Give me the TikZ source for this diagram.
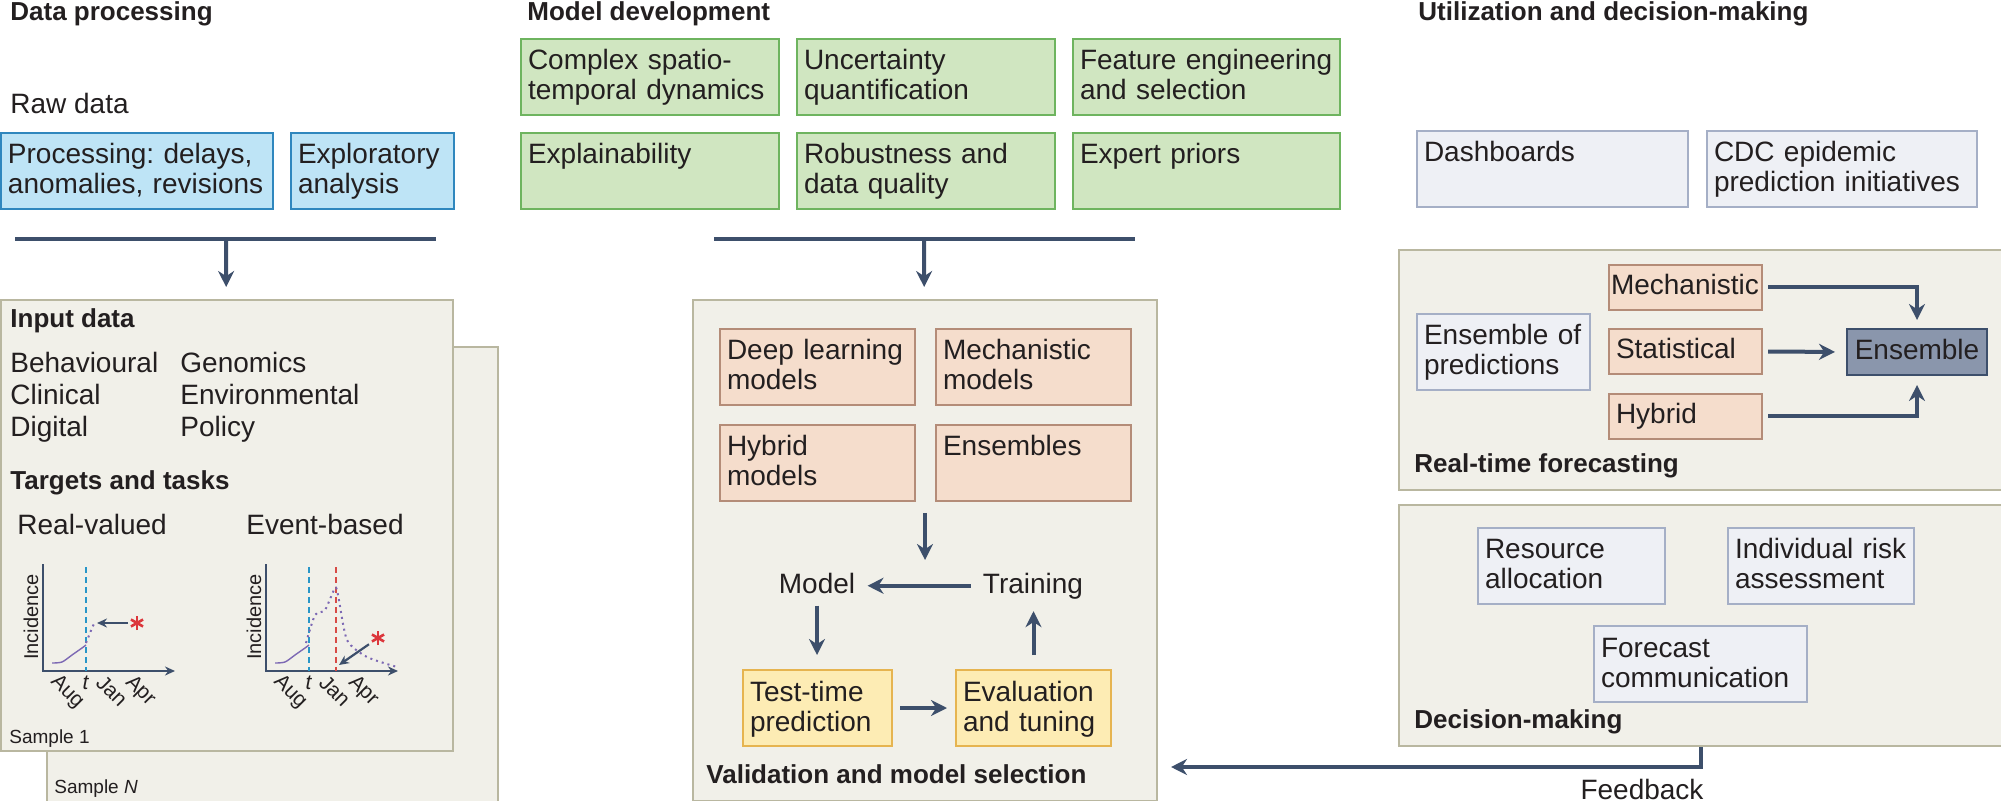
\documentclass[tikz,border=0pt]{standalone}
\usepackage{fontspec}
\setmainfont{Liberation Sans}
\usetikzlibrary{arrows.meta}
\definecolor{ink}{RGB}{35,31,32}
\definecolor{navy}{RGB}{61,79,107}
\definecolor{bluefill}{RGB}{190,228,246}
\definecolor{bluedraw}{RGB}{47,135,190}
\definecolor{greenfill}{RGB}{208,230,193}
\definecolor{greendraw}{RGB}{110,180,95}
\definecolor{peachfill}{RGB}{245,221,204}
\definecolor{peachdraw}{RGB}{180,140,120}
\definecolor{yellowfill}{RGB}{253,236,180}
\definecolor{yellowdraw}{RGB}{230,180,80}
\definecolor{greyfill}{RGB}{238,240,245}
\definecolor{greydraw}{RGB}{165,175,198}
\definecolor{panelfill}{RGB}{241,240,233}
\definecolor{paneldraw}{RGB}{185,183,160}
\definecolor{ensfill}{RGB}{138,150,172}
\definecolor{tblue}{RGB}{40,150,200}
\definecolor{tred}{RGB}{215,75,70}
\definecolor{tpurple}{RGB}{125,105,180}
\definecolor{astred}{RGB}{220,55,60}
\frenchspacing
\begin{document}
\begin{tikzpicture}[x=0.5pt,y=-0.5pt,
  every node/.style={text=ink,font=\fontsize{14}{15}\selectfont},
  bx/.style={draw,line width=1pt,anchor=north west,align=left,inner xsep=3.5pt,inner ysep=0pt,text height=15.5pt,text depth=22.5pt},
  sbx/.style={bx,text height=15pt,text depth=7.5pt},
  bluebox/.style={bx,fill=bluefill,draw=bluedraw},
  greenbox/.style={bx,fill=greenfill,draw=greendraw},
  peachbox/.style={bx,fill=peachfill,draw=peachdraw},
  yellowbox/.style={bx,fill=yellowfill,draw=yellowdraw},
  greybox/.style={bx,fill=greyfill,draw=greydraw},
  panel/.style={draw=paneldraw,fill=panelfill,line width=1pt,anchor=north west,inner sep=0pt},
  head/.style={anchor=base west,inner sep=0pt,font=\fontsize{13}{15}\selectfont\bfseries},
  txt/.style={anchor=base west,inner sep=0pt},
  lbl/.style={anchor=base,inner sep=6pt},
  tick/.style={inner sep=0pt,font=\fontsize{10.5}{12}\selectfont},
  small/.style={txt,font=\fontsize{9.5}{11}\selectfont},
  bar/.style={navy,line width=2.4pt},
  arr/.style={navy,line width=2pt,-{Stealth[length=8pt,width=8pt]}},
  parr/.style={navy,line width=1.1pt,-{Stealth[length=5pt,width=4.5pt]}},
  axis/.style={navy,line width=1.3pt,-{Stealth[length=5pt,width=4.5pt]}},
  ]
\useasboundingbox (0,0) rectangle (2001,801);

\node[head] (hdp) at (10,21) {Data processing};
\node[head] (hmd) at (527,21) {Model development};
\node[head] (hud) at (1418,21) {Utilization and decision-making};

\node[txt] (raw) at (10,114) {Raw data};
\node[bluebox,text width=129pt] (proc) at (0,132) {Processing: delays,\\anomalies, revisions};
\node[bluebox,text width=74.5pt] (expl) at (290,132) {Exploratory\\analysis};
\coordinate (b1l) at (15,239); \coordinate (b1r) at (436,239); \coordinate (b1) at (226,239);
\draw[bar] (b1l) -- (b1r);

\node[panel,minimum width=225.5pt,minimum height=227.5pt] (sN) at (46,346) {};
\node[panel,minimum width=226pt,minimum height=225.5pt] (s1) at (0,299) {};
\draw[arr,shorten >=6pt] (b1) -- (s1);
\node[head] (inp) at (10,328) {Input data};
\foreach \t [count=\i] in {Behavioural,Clinical,Digital}
  \node[txt] (da\i) at (10,341+32*\i) {\t};
\foreach \t [count=\i] in {Genomics,Environmental,Policy}
  \node[txt] (db\i) at (180,341+32*\i) {\t};
\node[head] (tat) at (10,490) {Targets and tasks};
\node[txt] (rv) at (17,534) {Real-valued};
\node[txt] (eb) at (246,534) {Event-based};
\node[small] (smp1) at (9,743) {Sample 1};
\node[small] (smpN) at (54,793) {Sample \textit{N}};

\foreach \ox/\i in {43/1,266/2}{
\begin{scope}[shift={(\ox,671)}]
  \draw[axis] (0,-107) -- (0,0) -- (132,0);
  \draw[tblue,line width=0.8pt,dash pattern=on 3pt off 2pt] (43,-104) -- (43,0);
  \draw[tpurple,line width=0.7pt] plot[smooth] coordinates {(9,-8) (19,-9) (29,-16) (39,-23) (43,-26)};
  \node[tick,font=\fontsize{10}{12}\selectfont,rotate=90] (inc\i) at (-12,-54) {Incidence};
  \node[tick,rotate=-45] (aug\i) at (24,21) {Aug};
  \node[tick] (t\i) at (43,12) {\textit{t}};
  \node[tick,rotate=-45] (jan\i) at (69,20) {Jan};
  \node[tick,rotate=-45] (apr\i) at (97,20) {Apr};
\end{scope}}

\begin{scope}[shift={(43,671)}]
  \draw[tpurple,line width=1pt,dash pattern=on 1pt off 2pt] plot[smooth] coordinates {(43,-28) (47,-38) (51,-47) (54,-48)};
  \coordinate (ast1) at (94,-48); \coordinate (pt1) at (54,-48);
  \draw[parr,shorten <=4.5pt] (ast1) -- (pt1);
  \foreach \a in {90,30,150} \draw[astred,line width=1.3pt] (ast1) +(\a:7) -- +(\a+180:7);
\end{scope}
\begin{scope}[shift={(266,671)}]
  \draw[tred,line width=0.8pt,dash pattern=on 3pt off 2pt] (70,-104) -- (70,0);
  \draw[tpurple,line width=1pt,dash pattern=on 1pt off 2pt] plot[smooth,tension=0.4] coordinates {(40,-28) (49,-56) (59,-61) (69,-83) (72,-76) (81,-31) (101,-14) (131,-4)};
  \coordinate (ast2) at (112,-33); \coordinate (pt2) at (73,-6);
  \draw[parr,shorten <=5.5pt] (ast2) -- (pt2);
  \foreach \a in {90,30,150} \draw[astred,line width=1.3pt] (ast2) +(\a:7) -- +(\a+180:7);
\end{scope}

\node[greenbox,text width=122pt] (cstd) at (520,38) {Complex spatio-\\temporal dynamics};
\node[greenbox,text width=122pt] (unc) at (796,38) {Uncertainty\\quantification};
\node[greenbox,text width=126.5pt] (feat) at (1072,38) {Feature engineering\\and selection};
\node[greenbox,text width=122pt] (expb) at (520,132) {Explainability};
\node[greenbox,text width=122pt] (rob) at (796,132) {Robustness and\\data quality};
\node[greenbox,text width=126.5pt] (pri) at (1072,132) {Expert priors};
\coordinate (b2l) at (714,239); \coordinate (b2r) at (1135,239); \coordinate (b2) at (924,239);
\draw[bar] (b2l) -- (b2r);

\node[panel,minimum width=232pt,minimum height=250.5pt] (valid) at (692,299) {};
\draw[arr,shorten >=6pt] (b2) -- (valid);
\node[peachbox,text width=90.5pt] (dlm) at (719,328) {Deep learning\\models};
\node[peachbox,text width=90.5pt] (mm) at (935,328) {Mechanistic\\models};
\node[peachbox,text width=90.5pt] (hm) at (719,424) {Hybrid\\models};
\node[peachbox,text width=90.5pt] (ensm) at (935,424) {Ensembles};
\coordinate (fork) at (925,500); \coordinate (forkend) at (925,560);
\draw[arr,shorten <=6.5pt] (fork) -- (forkend);
\node[lbl] (model) at (817,593) {Model};
\node[lbl] (train) at (1033,593) {Training};
\node[yellowbox,text width=67.5pt] (test) at (742,669) {Test-time\\prediction};
\node[yellowbox,text width=70.5pt] (eval) at (955,669) {Evaluation\\and tuning};
\draw[arr] (train.west) -- (train.west -| model.east);
\draw[arr,shorten >=7pt] (model.south) -- (model.south |- test.north);
\draw[arr,shorten <=3.5pt,shorten >=4pt] (test.east) -- (test.east -| eval.west);
\draw[arr,shorten <=7pt] (eval.north) -- (eval.north |- train.south);
\node[head] (vms) at (706,783) {Validation and model selection};

\node[greybox,text width=128.5pt] (dash) at (1416,130) {Dashboards};
\node[greybox,text width=128pt] (cdc) at (1706,130) {CDC epidemic\\prediction initiatives};

\node[panel,minimum width=302pt,minimum height=120pt] (rtf) at (1398,249) {};
\node[greybox,text width=79.5pt] (eop) at (1416,313) {Ensemble of\\predictions};
\node[sbx,fill=peachfill,draw=peachdraw,inner xsep=1pt,text width=74.5pt] (mech) at (1608,264) {Mechanistic};
\node[sbx,fill=peachfill,draw=peachdraw,text width=69.5pt] (stat) at (1608,328) {Statistical};
\node[sbx,fill=peachfill,draw=peachdraw,text width=69.5pt] (hyb) at (1608,393) {Hybrid};
\node[sbx,fill=ensfill,draw=navy,align=center,text width=63pt,text height=15.5pt] (ens) at (1846,328) {Ensemble};
\draw[arr,shorten <=2.5pt,shorten >=4pt] (mech.east) -| (ens.north);
\draw[arr,shorten <=2.5pt,shorten >=5.5pt] (stat.east) -- (ens.west);
\draw[arr,shorten <=2.5pt,shorten >=4.5pt] (hyb.east) -| (ens.south);
\node[head] (rtfl) at (1414,473) {Real-time forecasting};

\node[panel,minimum width=302pt,minimum height=120.5pt] (dec) at (1398,504) {};
\node[greybox,text width=86.5pt] (res) at (1477,527) {Resource\\allocation};
\node[greybox,text width=86pt] (ira) at (1727,527) {Individual risk\\assessment};
\node[greybox,text width=99.5pt] (fc) at (1593,625) {Forecast\\communication};
\node[head] (decl) at (1414,728) {Decision-making};
\coordinate (fb) at (1156,767);
\draw[arr,shorten >=7.5pt] (dec.south) |- (fb);
\node[txt,anchor=base] (fbl) at (1642,799) {Feedback};
\end{tikzpicture}
\end{document}
